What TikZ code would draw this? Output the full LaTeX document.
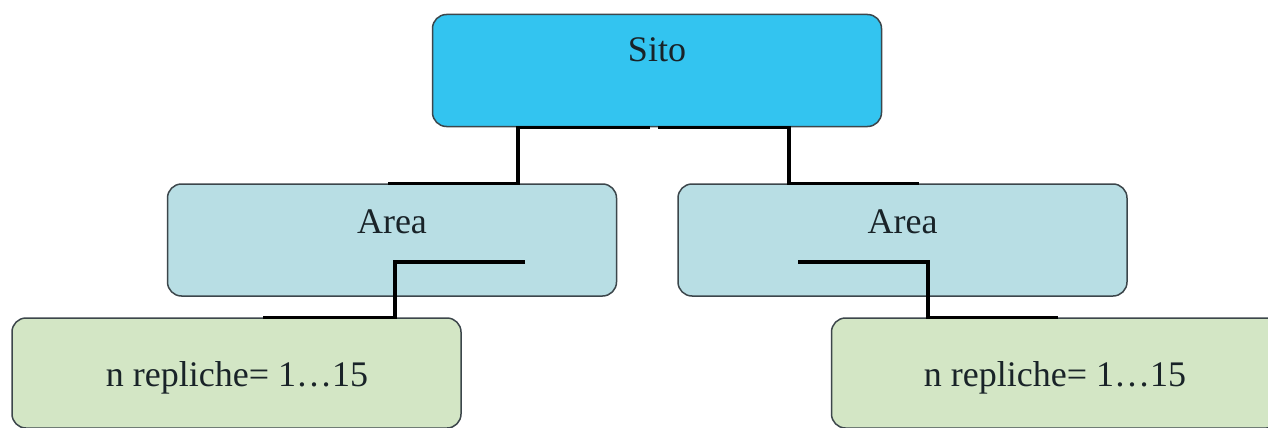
\documentclass[tikz,border=0pt]{standalone}
\usepackage{fontspec}
\setmainfont{Liberation Serif}
\usepackage{xcolor}
\definecolor{sitoblue}{RGB}{51,196,240}
\definecolor{areablue}{RGB}{184,222,228}
\definecolor{repgreen}{RGB}{211,230,197}
\definecolor{boxline}{RGB}{60,70,75}
\definecolor{txt}{RGB}{25,35,40}

\begin{document}
\begin{tikzpicture}[x=1pt, y=-1pt,
  box/.style = {draw=boxline, line width=1.5pt, rounded corners=14pt, minimum width=449pt, minimum height=112pt, inner sep=0pt},
  lbl/.style = {text=txt, font=\fontsize{36}{40}\selectfont, inner sep=0pt},
  link/.style = {line width=3.5pt, black}]
\useasboundingbox (0,0) rectangle (1268,428);
\fill[white] (0,0) rectangle (1268,428);

% boxes
\node[box, fill=sitoblue] (sito) at (657,70.5) {};
\node[box, fill=areablue] (areaL) at (392,240) {};
\node[box, fill=areablue] (areaR) at (902.5,240) {};
\node[box, fill=repgreen, minimum height=110pt] (repL) at (236.5,373) {};
\node[box, fill=repgreen, minimum height=110pt] (repR) at (1056,373) {};

% texts
\node[lbl] (tsito) at (657,50) {Sito};
\node[lbl] (tareaL) at (392,222) {Area};
\node[lbl] (tareaR) at (902.5,222) {Area};
\node[lbl] (trepL) at (237,378) {n repliche= 1…15};
\node[lbl] (trepR) at (1055,378) {n repliche= 1…15};

% connectors
\draw[link] ([xshift=-7pt]sito.south) -- ([xshift=-139pt]sito.south) |- ([xshift=-4pt]areaL.north);
\draw[link] ([xshift=1pt]sito.south) -- ([xshift=132pt]sito.south) |- ([xshift=16pt]areaR.north);
\draw[link] ([xshift=133pt,yshift=-22pt]areaL.center) -- ([xshift=3pt,yshift=-22pt]areaL.center) |- ([xshift=26.5pt]repL.north);
\draw[link] ([xshift=-104.5pt,yshift=-22pt]areaR.center) -- ([xshift=25.5pt,yshift=-22pt]areaR.center) |- ([xshift=2pt]repR.north);
\end{tikzpicture}
\end{document}
